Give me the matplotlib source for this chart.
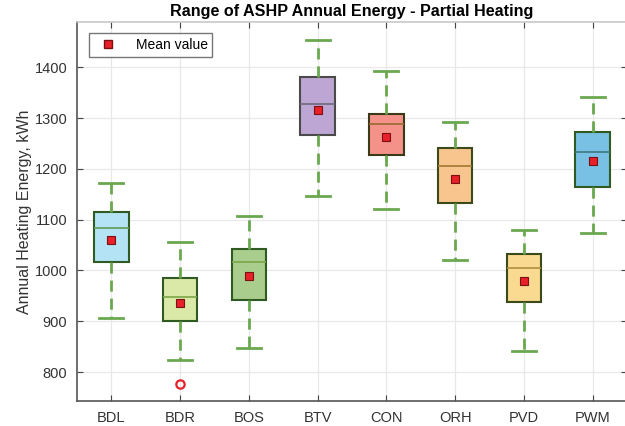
import matplotlib
matplotlib.use("Agg")
import matplotlib.pyplot as plt
from matplotlib.lines import Line2D

plt.rcParams["font.family"] = ["Liberation Sans", "DejaVu Sans"]

sites = ["BDL", "BDR", "BOS", "BTV", "CON", "ORH", "PVD", "PWM"]
whisker_low = [906, 823, 847, 1147, 1120, 1020, 841, 1074]
q1 = [1016, 901, 941, 1266, 1228, 1133, 937, 1164]
median = [1084, 948, 1017, 1327, 1288, 1206, 1005, 1233]
q3 = [1115, 985, 1043, 1381, 1308, 1240, 1032, 1272]
whisker_high = [1172, 1055, 1108, 1454, 1392, 1293, 1079, 1341]
mean = [1059, 936, 989, 1315, 1263, 1180, 979, 1215]
outliers = [[], [777], [], [], [], [], [], []]

fills = ["#b3e3f5", "#dbe9a8", "#a9cd8c", "#bda6d3", "#f4928a", "#f9c58e", "#fad991", "#79c1e4"]
edges = ["#2f5a22", "#2f5a22", "#2f5a22", "#4a4a4a", "#3a3a18", "#3a4a18", "#3a4a18", "#2f5a22"]
median_colors = ["#5f9a55", "#7aa648", "#7aa648", "#6e6a7a", "#9a6a30", "#a07a30", "#b0903a", "#3f7a80"]

fig = plt.figure(figsize=(6.25, 4.26), dpi=100)
ax = fig.add_axes([0.1232, 0.0587, 0.88, 0.8897])

stats = []
for i, s in enumerate(sites):
    stats.append(dict(label=s, whislo=whisker_low[i], q1=q1[i], med=median[i],
                      q3=q3[i], whishi=whisker_high[i], fliers=outliers[i]))

green = "#6aa84f"
bp = ax.bxp(stats, positions=range(1, len(sites) + 1), widths=0.5,
            patch_artist=True, showfliers=True, manage_ticks=False,
            whiskerprops=dict(color=green, linestyle=(0, (4, 2.5)), linewidth=2.0),
            capprops=dict(color=green, linewidth=2.0),
            flierprops=dict(marker="o", markerfacecolor="none",
                            markeredgecolor="#e8202a", markersize=6, markeredgewidth=1.6),
            capwidths=0.35)

for i, box in enumerate(bp["boxes"]):
    box.set_facecolor(fills[i])
    box.set_edgecolor(edges[i])
    box.set_linewidth(1.5)
    box.set_zorder(2)
for i, med in enumerate(bp["medians"]):
    med.set_color(median_colors[i])
    med.set_linewidth(1.2)
    med.set_zorder(3)

ax.plot(range(1, len(sites) + 1), mean, linestyle="none", marker="s",
        markersize=6, markerfacecolor="#e8202a", markeredgecolor="#7a1010",
        markeredgewidth=0.8, zorder=4)

ax.set_xlim(0.5, 8.5)
ax.set_ylim(743, 1489)
ax.set_xticks(range(1, len(sites) + 1))
ax.set_xticklabels(sites)
ax.set_yticks([800, 900, 1000, 1100, 1200, 1300, 1400])

ax.grid(True, color="#e8e8e8", linewidth=0.9)
ax.set_axisbelow(True)
ax.tick_params(axis="both", direction="in", length=4, color="#444444",
               labelsize=10.5, labelcolor="#333333", top=True, right=True, pad=7)
ax.spines["left"].set_color("#555555")
ax.spines["bottom"].set_color("#555555")
ax.spines["top"].set_color("#c8c8c8")
ax.spines["right"].set_color("#c8c8c8")
for sp in ax.spines.values():
    sp.set_linewidth(1.2)

ax.set_title("Range of ASHP Annual Energy - Partial Heating", fontsize=11.6,
             fontweight="bold", pad=4)
ax.set_ylabel("Annual Heating Energy, kWh", fontsize=11.5, color="#333333", labelpad=2)

handle = Line2D([], [], linestyle="none", marker="s", markersize=6,
                markerfacecolor="#e8202a", markeredgecolor="#7a1010")
leg = ax.legend([handle], ["Mean value"], loc="upper left",
                bbox_to_anchor=(0.022, 0.971), borderaxespad=0, fontsize=10,
                frameon=True, fancybox=False, edgecolor="#555555", borderpad=0.35,
                handletextpad=1.0)
leg.get_frame().set_linewidth(1.0)

fig.savefig("out.png", dpi=100)
